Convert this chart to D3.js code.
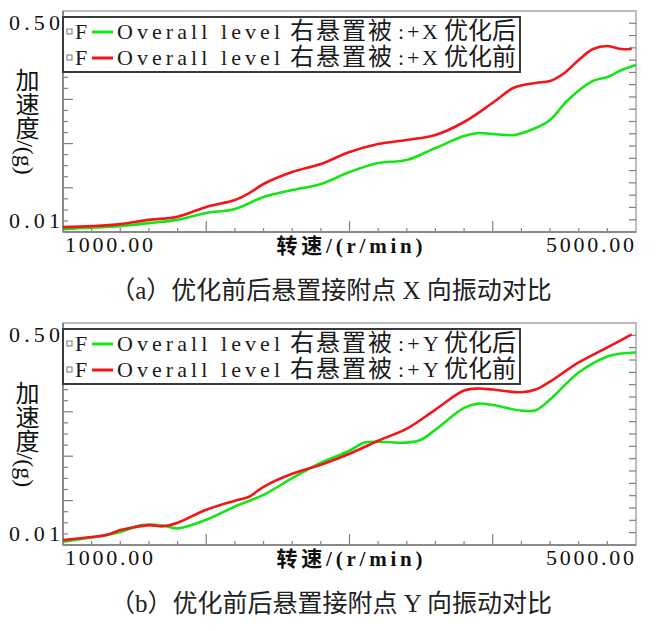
<!DOCTYPE html>
<html>
<head>
<meta charset="utf-8">
<script src="https://cdn.jsdelivr.net/npm/d3@7"></script>
<style>
  body { margin: 0; background: #fff; }
</style>
</head>
<body>
<div id="chart"></div>
<script>
// ---- data (rpm, acceleration in g) ----
var xDomain = [1000, 5000];
var yDomain = [0.01, 0.5];
var xTickLabels = ["1000.00", "5000.00"];
var yTickLabels = ["0.50", "0.01"];
var xTitle = "转速/(r/min)";
var yTitle = "加速度/(g)";

// (a) X direction
var rpmXAfter = [1000, 1200, 1400, 1600, 1800, 2000, 2200, 2400, 2600, 2800, 3000, 3200, 3400, 3600, 3800, 3900, 4000, 4150, 4300, 4400, 4525, 4700, 4800, 4900, 5000];
var accXAfter = [0.0105, 0.0108, 0.0111, 0.0117, 0.0124, 0.0140, 0.0150, 0.0186, 0.0210, 0.0234, 0.0289, 0.0339, 0.0358, 0.0442, 0.0547, 0.0577, 0.0567, 0.0557, 0.0630, 0.0726, 0.1035, 0.145, 0.1555, 0.176, 0.192];
var rpmXBefore = [1000, 1200, 1400, 1600, 1800, 2000, 2200, 2300, 2400, 2600, 2800, 3000, 3200, 3400, 3600, 3800, 4000, 4150, 4300, 4400, 4500, 4600, 4700, 4800, 4900, 4970];
var accXBefore = [0.0109, 0.0111, 0.0115, 0.0124, 0.0131, 0.0156, 0.0176, 0.0199, 0.0234, 0.0289, 0.0333, 0.0412, 0.0475, 0.0510, 0.0557, 0.0701, 0.0985, 0.129, 0.140, 0.1448, 0.167, 0.210, 0.255, 0.269, 0.255, 0.255];

// (b) Y direction
var rpmYAfter = [1000, 1200, 1400, 1550, 1700, 1800, 2000, 2200, 2400, 2600, 2800, 3000, 3100, 3200, 3400, 3500, 3600, 3800, 3900, 4000, 4200, 4300, 4400, 4600, 4800, 4900, 5000];
var accYAfter = [0.0106, 0.0114, 0.0126, 0.0142, 0.0141, 0.0134, 0.0156, 0.0197, 0.0242, 0.0325, 0.0426, 0.0526, 0.0607, 0.0617, 0.0607, 0.0639, 0.0763, 0.112, 0.1208, 0.1177, 0.1068, 0.1075, 0.1297, 0.2089, 0.2773, 0.2923, 0.2975];
var rpmYBefore = [1000, 1200, 1300, 1400, 1500, 1600, 1700, 1800, 2000, 2200, 2300, 2400, 2600, 2800, 3000, 3200, 3400, 3600, 3800, 3900, 4000, 4200, 4300, 4400, 4600, 4800, 4970];
var accYBefore = [0.0109, 0.0115, 0.0119, 0.0130, 0.0137, 0.0142, 0.0139, 0.0148, 0.0186, 0.0218, 0.0234, 0.0279, 0.0351, 0.0411, 0.0499, 0.0628, 0.0777, 0.1087, 0.152, 0.1575, 0.1548, 0.1475, 0.1548, 0.178, 0.2494, 0.325, 0.409];

// legend rows split in the pieces the original lays out on its own grid
var legendA = [["Overall level", "右悬置被", ":+X", "优化后"], ["Overall level", "右悬置被", ":+X", "优化前"]];
var legendB = [["Overall level", "右悬置被", ":+Y", "优化后"], ["Overall level", "右悬置被", ":+Y", "优化前"]];
var captionA = "（a）优化前后悬置接附点 X 向振动对比";
var captionB = "（b）优化前后悬置接附点 Y 向振动对比";

var green = "#14e614", red = "#f5141a";
var serifFont = "'Liberation Serif', 'Noto Sans CJK SC', serif";

var svg = d3.select("#chart").append("svg")
    .attr("width", 670)
    .attr("height", 631);

function zip(xs, ys) {
    return xs.map(function(x, i) { return [x, ys[i]]; });
}

function drawPanel(top, bottom, series, legendRows, caption, id) {
    var left = 63, right = 636;

    var xScale = d3.scaleLinear().domain(xDomain).range([left, right]);
    var yScale = d3.scaleLog().domain(yDomain).range([bottom, top]);

    var g = svg.append("g");

    g.append("clipPath").attr("id", "clip" + id)
        .append("rect")
        .attr("x", left).attr("y", top)
        .attr("width", right - left).attr("height", bottom - top);

    // frame
    g.append("rect")
        .attr("x", left).attr("y", top)
        .attr("width", right - left).attr("height", bottom - top)
        .attr("fill", "#fff")
        .attr("stroke", "#a8a8a8")
        .attr("stroke-width", 1.5);

    // left ticks: 20 equal log steps, long every 4th
    var logSpan = Math.log10(yDomain[1] / yDomain[0]);
    var leftTicks = d3.range(1, 20).map(function(k) { return yDomain[0] * Math.pow(10, logSpan * k / 20); });
    g.selectAll(".lt" + id).data(leftTicks).enter().append("line")
        .attr("x1", left).attr("x2", function(d, i) { return (i + 1) % 4 == 0 ? left + 10 : left + 5; })
        .attr("y1", function(d) { return yScale(d); })
        .attr("y2", function(d) { return yScale(d); })
        .attr("stroke", "#808080").attr("stroke-width", 1.2);

    // right ticks: 18 equal log steps
    var rightTicks = d3.range(1, 18).map(function(k) { return yDomain[0] * Math.pow(10, logSpan * k / 18); });
    g.selectAll(".rt" + id).data(rightTicks).enter().append("line")
        .attr("x1", right - 7).attr("x2", right)
        .attr("y1", function(d) { return yScale(d); })
        .attr("y2", function(d) { return yScale(d); })
        .attr("stroke", "#808080").attr("stroke-width", 1.2);

    // bottom ticks every 200 rpm, major every 1000
    var xTicks = d3.range(1200, 5000, 200);
    g.selectAll(".bt" + id).data(xTicks).enter().append("line")
        .attr("x1", function(d) { return xScale(d); })
        .attr("x2", function(d) { return xScale(d); })
        .attr("y1", bottom)
        .attr("y2", function(d) { return d % 1000 == 0 ? bottom - 11 : bottom - 4; })
        .attr("stroke", "#808080").attr("stroke-width", 1.2);

    // left and bottom axis lines
    g.append("line").attr("x1", left).attr("x2", left).attr("y1", top).attr("y2", bottom)
        .attr("stroke", "#8a8a8a").attr("stroke-width", 2);
    g.append("line").attr("x1", left).attr("x2", right).attr("y1", bottom).attr("y2", bottom)
        .attr("stroke", "#8a8a8a").attr("stroke-width", 2);

    // curves
    var line = d3.line()
        .x(function(d) { return xScale(d[0]); })
        .y(function(d) { return yScale(d[1]); })
        .curve(d3.curveCatmullRom.alpha(0.5));

    series.forEach(function(s) {
        g.append("path")
            .datum(s.data)
            .attr("clip-path", "url(#clip" + id + ")")
            .attr("d", line)
            .attr("fill", "none")
            .attr("stroke", s.color)
            .attr("stroke-width", 2.6)
            .attr("stroke-linejoin", "round");
    });

    // legend
    var lgTop = top + 6, lgBottom = top + 61;
    g.append("rect")
        .attr("x", left).attr("y", lgTop)
        .attr("width", 520 - left).attr("height", lgBottom - lgTop)
        .attr("fill", "#fff")
        .attr("stroke", "#3a3a3a")
        .attr("stroke-width", 2);

    var legendColors = [green, red];
    // start x of each piece of a legend row, and stretched widths for the latin pieces
    var pieceX = [117, 290, 398, 444];
    var pieceW = [163, null, 40, null];
    legendRows.forEach(function(pieces, i) {
        var cy = lgTop + 15 + i * 26;
        g.append("rect")
            .attr("x", 67).attr("y", cy - 3)
            .attr("width", 5).attr("height", 5)
            .attr("fill", "none").attr("stroke", "#777").attr("stroke-width", 1);
        g.append("text")
            .attr("x", 75).attr("y", cy + 7)
            .attr("font-family", serifFont).attr("font-size", 22)
            .attr("fill", "#1a1a1a")
            .text("F");
        g.append("line")
            .attr("x1", 92).attr("x2", 113).attr("y1", cy).attr("y2", cy)
            .attr("stroke", legendColors[i]).attr("stroke-width", 3);
        var t = g.append("text")
            .attr("y", cy + 7)
            .attr("font-family", serifFont).attr("font-size", 22)
            .attr("fill", "#1a1a1a");
        pieces.forEach(function(p, j) {
            if (j == 1 || j == 3) t.node().appendChild(document.createTextNode(" "));
            var ts = t.append("tspan").attr("x", pieceX[j]).text(p);
            if (pieceW[j]) ts.attr("textLength", pieceW[j]).attr("lengthAdjust", "spacing");
            else ts.attr("font-size", 24).attr("letter-spacing", j == 1 ? 2 : 0);
        });
    });

    // tick labels
    g.append("text").attr("x", 60).attr("y", top + 19)
        .attr("text-anchor", "end").attr("font-family", serifFont).attr("font-size", 22)
        .attr("textLength", 51).attr("lengthAdjust", "spacing").attr("fill", "#111")
        .text(yTickLabels[0]);
    g.append("text").attr("x", 60).attr("y", bottom - 4)
        .attr("text-anchor", "end").attr("font-family", serifFont).attr("font-size", 22)
        .attr("textLength", 51).attr("lengthAdjust", "spacing").attr("fill", "#111")
        .text(yTickLabels[1]);
    g.append("text").attr("x", 65).attr("y", bottom + 20)
        .attr("font-family", serifFont).attr("font-size", 22)
        .attr("textLength", 88).attr("lengthAdjust", "spacing").attr("fill", "#111")
        .text(xTickLabels[0]);
    g.append("text").attr("x", 634).attr("y", bottom + 20)
        .attr("text-anchor", "end").attr("font-family", serifFont).attr("font-size", 22)
        .attr("textLength", 88).attr("lengthAdjust", "spacing").attr("fill", "#111")
        .text(xTickLabels[1]);

    // axis titles
    g.append("text").attr("x", (left + right) / 2).attr("y", bottom + 21)
        .attr("text-anchor", "middle").attr("font-family", serifFont).attr("font-size", 21)
        .attr("font-weight", "bold").attr("fill", "#111")
        .attr("textLength", 146).attr("lengthAdjust", "spacing")
        .text(xTitle);
    g.append("text").attr("x", 25).attr("y", (top + bottom) / 2)
        .attr("text-anchor", "middle")
        .attr("style", "writing-mode: vertical-rl; text-orientation: mixed")
        .attr("font-family", serifFont).attr("font-size", 24)
        .attr("fill", "#111")
        .text(yTitle);

    // caption
    g.append("text").attr("x", 331).attr("y", bottom + 67)
        .attr("text-anchor", "middle")
        .attr("font-family", serifFont).attr("font-size", 25)
        .attr("fill", "#222")
        .text(caption);
}

drawPanel(11, 232, [
    {data: zip(rpmXAfter, accXAfter), color: green},
    {data: zip(rpmXBefore, accXBefore), color: red}
], legendA, captionA, "a");

drawPanel(323, 545, [
    {data: zip(rpmYAfter, accYAfter), color: green},
    {data: zip(rpmYBefore, accYBefore), color: red}
], legendB, captionB, "b");
</script>
</body>
</html>
